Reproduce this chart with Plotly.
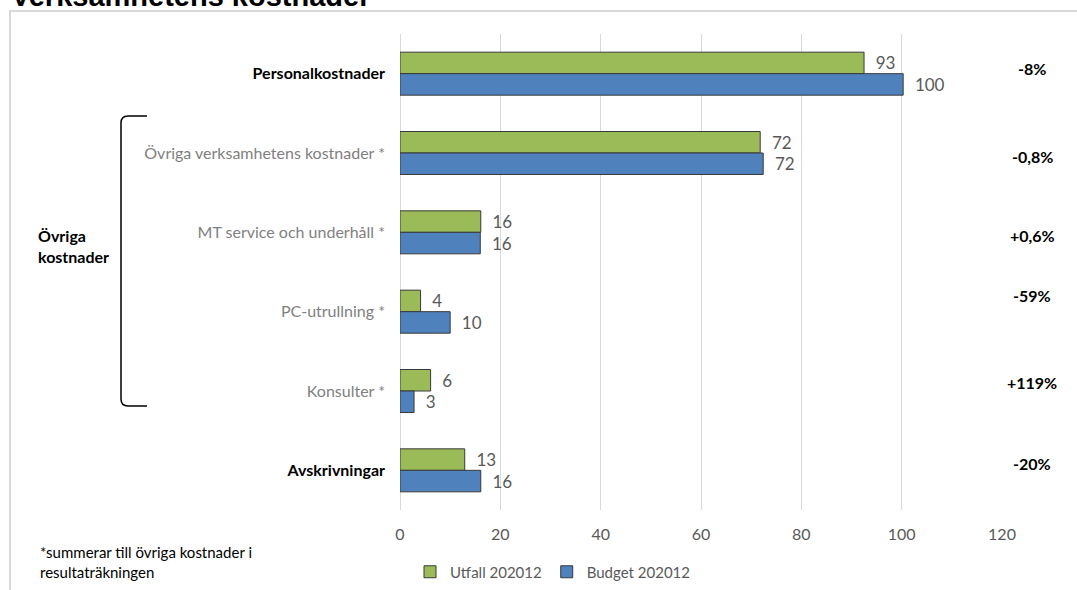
import plotly.graph_objects as go

categories = ["Personalkostnader", "Övriga verksamhetens kostnader *", "MT service och underhåll *",
              "PC-utrullning *", "Konsulter *", "Avskrivningar"]
bold_cats = ["Personalkostnader", "Avskrivningar"]
utfall = [92.5, 71.8, 16.1, 4.1, 6.1, 12.9]
budget = [100.3, 72.4, 16.0, 10.0, 2.8, 16.1]
diff_labels = ["-8%", "-0,8%", "+0,6%", "-59%", "+119%", "-20%"]
diff_shift = [5, -3, -3, 16, 9, 7]
x_ticks = [0, 20, 40, 60, 80, 100, 120]

W, H = 1077, 590
L, R, T, B = 400, 75, 34, 80
pw, ph = W - L - R, H - T - B


def px(x):
    return (x - L) / pw


def py(y):
    return (H - B - y) / ph


ticktext = [f"<b><span style='color:#000000'>{c}</span></b>" if c in bold_cats else c for c in categories]

line = dict(color="#3A3A3A", width=1)
label_font = dict(color="#595959", size=17, family="Lato")
fig = go.Figure()
fig.add_trace(go.Bar(name="Utfall 202012", y=categories, x=utfall, orientation="h",
                     marker=dict(color="#9BBB59", line=line),
                     texttemplate="\u00a0\u00a0%{x:.0f}", textposition="outside",
                     textfont=label_font, cliponaxis=False))
fig.add_trace(go.Bar(name="Budget 202012", y=categories, x=budget, orientation="h",
                     marker=dict(color="#4F81BD", line=line),
                     texttemplate="\u00a0\u00a0%{x:.0f}", textposition="outside",
                     textfont=label_font, cliponaxis=False))

annotations = []
for c, lab, s in zip(categories, diff_labels, diff_shift):
    annotations.append(dict(x=120, y=c, xref="x", yref="y", text=f"<b>{lab}</b>", showarrow=False,
                            xshift=30, yshift=s, font=dict(size=16, color="#000000", family="Lato")))
annotations.append(dict(x=px(36), y=py(246), xref="paper", yref="paper", xanchor="left", yanchor="middle",
                        text="<b>Övriga<br>kostnader</b>", showarrow=False, align="left",
                        font=dict(size=16, color="#000000", family="Lato")))
annotations.append(dict(x=px(38), y=py(562), xref="paper", yref="paper", xanchor="left", yanchor="middle",
                        text="*summerar till övriga kostnader i<br>resultaträkningen", showarrow=False,
                        align="left", font=dict(size=15, color="#000000", family="Lato")))
annotations.append(dict(x=px(9), y=py(-4), xref="paper", yref="paper", xanchor="left", yanchor="middle",
                        text="<b>Verksamhetens kostnader</b>", showarrow=False,
                        font=dict(size=29, color="#000000", family="Liberation Sans")))

shapes = [
    # bracket
    dict(type="path", xref="paper", yref="paper",
         path=(f"M {px(147)} {py(116)} L {px(128)} {py(116)} Q {px(121)} {py(116)} {px(121)} {py(123)} "
               f"L {px(121)} {py(399)} Q {px(121)} {py(406)} {px(128)} {py(406)} L {px(147)} {py(406)}"),
         line=dict(color="#000000", width=1.5)),
    # frame
    dict(type="path", xref="paper", yref="paper",
         path=f"M {px(10)} {py(600)} L {px(10)} {py(11)} L {px(1090)} {py(11)}",
         line=dict(color="#D9D9D9", width=2)),
]

fig.update_layout(
    width=W, height=H, margin=dict(l=L, r=R, t=T, b=B, autoexpand=False),
    paper_bgcolor="white", plot_bgcolor="white",
    barmode="group", bargap=0.458, bargroupgap=0,
    font=dict(family="Lato", color="#595959"),
    xaxis=dict(range=[0, 120], tickvals=x_ticks, showgrid=True, gridcolor="#D9D9D9", gridwidth=1,
               zeroline=True, zerolinecolor="#D9D9D9", zerolinewidth=1, showline=False,
               tickfont=dict(size=16, color="#595959"), ticks="", ticklabelstandoff=13),
    yaxis=dict(categoryorder="array", categoryarray=categories, autorange="reversed",
               tickvals=categories, ticktext=ticktext, ticks="", showline=False,
               tickfont=dict(size=16, color="#7F7F7F"), ticklabelstandoff=14),
    legend=dict(orientation="h", x=px(410), y=py(572), xanchor="left", yanchor="middle",
                font=dict(size=15, color="#595959"), itemwidth=30, traceorder="normal"),
    annotations=annotations, shapes=shapes, showlegend=True,
)
fig.write_html("out.html", config={"displayModeBar": False},
               post_script="document.body.style.margin='0';document.body.style.overflow='hidden';")
